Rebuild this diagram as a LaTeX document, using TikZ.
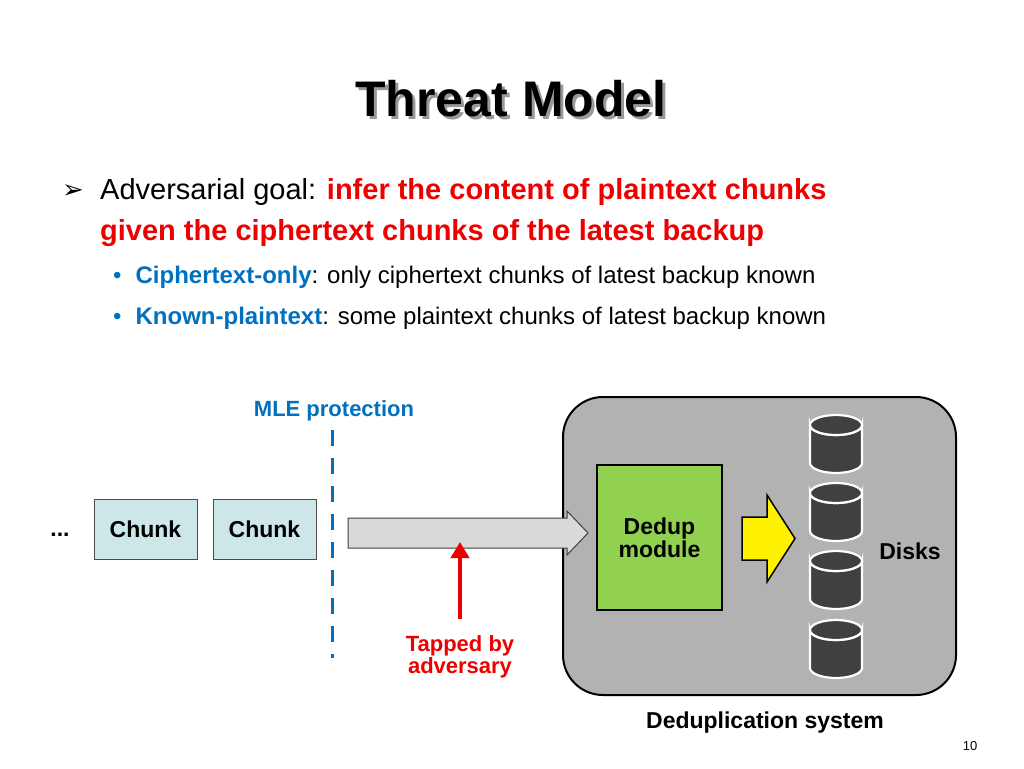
\documentclass[tikz,border=0pt]{standalone}
\usepackage{fontspec}
\setmainfont{Liberation Sans}
\newfontfamily\djv{DejaVu Sans}
\usetikzlibrary{shapes.arrows,arrows.meta}
\definecolor{tred}{RGB}{238,0,0}
\definecolor{tblue}{RGB}{0,112,192}
\begin{document}
\begin{tikzpicture}[x=1pt,y=-1pt,
  fs/.style={font=\fontsize{#1}{#1}\selectfont},
  bfs/.style={font=\fontsize{#1}{#1}\selectfont\bfseries},
  chunk/.style={draw=black!70,fill={rgb,255:red,205;green,231;blue,233},minimum width=103,minimum height=60,inner sep=0,font=\fontsize{23}{23}\selectfont\bfseries},
  disk/.style={draw=white,line width=2.2pt,fill=black!75}]
\useasboundingbox (0,0) rectangle (1024,768);
% title
\node[bfs=50,text=black!40] at (514,102) {Threat Model};
\node[bfs=50] (title) at (511,99) {Threat Model};
% bullets
\node[anchor=base west,fs=26,inner sep=0] (b1) at (62,198) {\djv ➢};
\node[anchor=base west,fs=29,inner sep=0] (l1) at (100,199) {Adversarial goal: \textcolor{tred}{\bfseries infer the content of plaintext chunks}};
\node[anchor=base west,bfs=29,inner sep=0,text=tred] (l2) at (100,240) {given the ciphertext chunks of the latest backup};
\node[anchor=base west,fs=24,inner sep=0] (l3) at (113,283) {\textcolor{tblue}{•}\hspace{14pt}\textcolor{tblue}{\bfseries Ciphertext-only}: only ciphertext chunks of latest backup known};
\node[anchor=base west,fs=24,inner sep=0] (l4) at (113,324) {\textcolor{tblue}{•}\hspace{14pt}\textcolor{tblue}{\bfseries Known-plaintext}: some plaintext chunks of latest backup known};
% system box
\draw[line width=2pt,fill=black!30,rounded corners=40] (563,397) rectangle (956,695);
\node[bfs=23] (sys) at (765,723) {Deduplication system};
\node[draw=black,line width=1.8pt,fill={rgb,255:red,146;green,208;blue,80},minimum width=125,minimum height=145,inner sep=0] (dedup) at (659.5,537.5) {};
\node[bfs=23,align=center] at (659.5,538) {Dedup\\module};
% yellow arrow
\draw[line width=1.5pt,fill=yellow] (742,517) -- (767,517) -- (767,495) -- (795,538.5) -- (767,582) -- (767,560) -- (742,560) -- cycle;
% disks
\foreach \t [count=\i] in {415,483,551,620}{
  \draw[disk] (810,\t+10) arc[start angle=180,end angle=0,x radius=26,y radius=10] -- (862,\t+48) arc[start angle=0,end angle=180,x radius=26,y radius=10] -- cycle;
  \draw[disk] (836,\t+10) ellipse[x radius=26,y radius=10];
  \coordinate (d\i) at (862,\t+29);
}
\node[bfs=23] (disks) at (910,551) {Disks};
% chunks
\node[chunk] (c1) at (145.5,529) {Chunk};
\node[chunk] (c2) at (264.5,529) {Chunk};
\node[bfs=23] (dots) at (60,535) {...};
% MLE
\node[bfs=22,text=tblue] (mle) at (334,411) {MLE protection};
\coordinate (m1) at (332,430); \coordinate (m2) at (332,658);
\draw[tblue,line width=3pt,dash pattern=on 16pt off 12pt] (m1) -- (m2);
% grey arrow
\draw[black!75,line width=1pt,fill=black!15] (348,518) -- (567,518) -- (567,511) -- (588,533) -- (567,555) -- (567,548) -- (348,548) -- cycle;
% red arrow
\node[bfs=22,text=tred,align=center] (tap) at (460,657) {Tapped by\\adversary};
\coordinate (r1) at (460,619); \coordinate (r2) at (460,542);
\draw[tred,line width=4pt,-{Triangle[length=16pt,width=18pt]}] (r1) -- (r2);
\node[fs=13] (pg) at (970,746) {10};
\end{tikzpicture}
\end{document}
